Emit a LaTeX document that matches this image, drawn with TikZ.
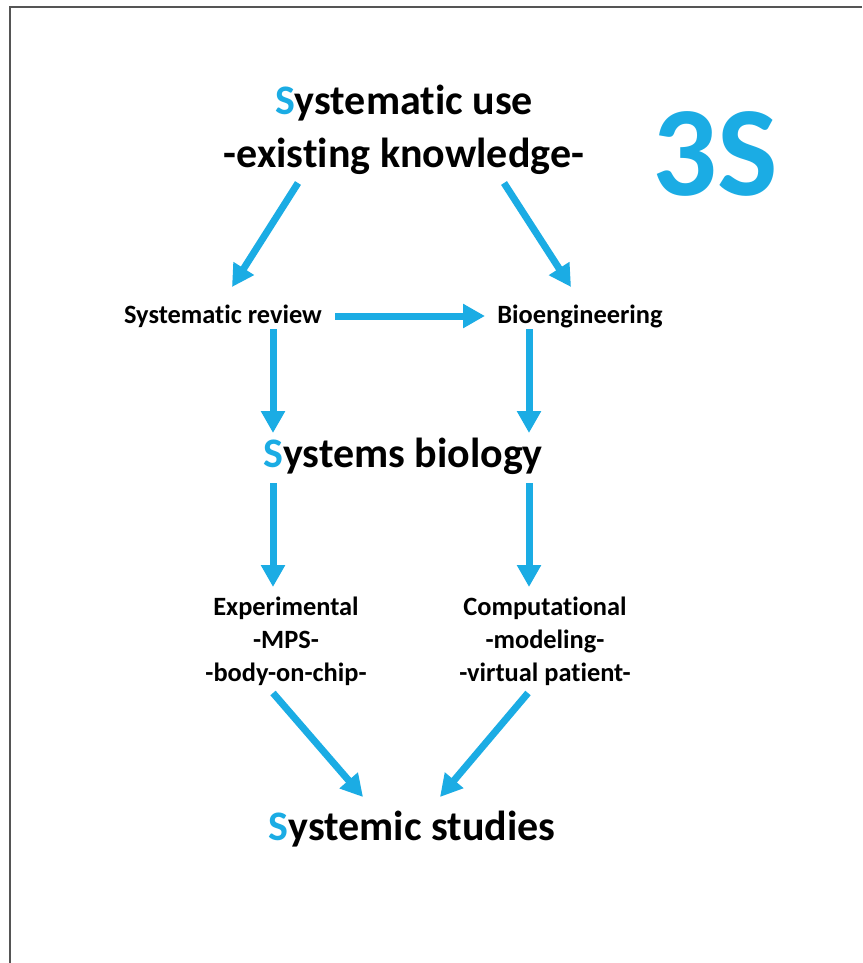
\documentclass[tikz,border=0pt]{standalone}
\usepackage{fontspec}
\setmainfont{Carlito}[Ligatures=NoCommon]
\usetikzlibrary{arrows.meta}
\definecolor{sblue}{RGB}{27,172,228}
\definecolor{framegray}{RGB}{85,85,85}
\begin{document}
\begin{tikzpicture}[x=1pt,y=-1pt,
 big/.style={font=\fontsize{42}{52}\selectfont\bfseries, anchor=base, align=center, inner sep=0pt},
 small/.style={font=\fontsize{26.4}{33}\selectfont\bfseries, anchor=base, align=center, inner sep=0pt},
 logo/.style={font=\fontsize{128}{130}\selectfont\bfseries, text=sblue, anchor=base, inner sep=0pt},
 flow/.style={draw=sblue, line width=7pt, -{Triangle[width=23pt,length=22pt]}}]
\useasboundingbox (0,0) rectangle (862,963);
\fill[white] (0,0) rectangle (862,963);
\draw[framegray, line width=2pt] (10,963) -- (10,7) -- (862,7);

\node[big] (top) at (404,167) {{\color{sblue}S}ystematic use\\-existing knowledge-};
\node[logo] (threeS) at (715,195) {3S};
\node[small] (review) at (223,323) {Systematic review};
\node[small] (bio) at (580,323) {Bioengineering};
\node[big] (sysbio) at (403,467) {{\color{sblue}S}ystems biology};
\node[small] (exp) at (286,681) {Experimental\\-MPS-\\-body-on-chip-};
\node[small] (comp) at (545,681) {Computational\\-modeling-\\-virtual patient-};
\node[big] (studies) at (412,840) {{\color{sblue}S}ystemic studies};

\coordinate (a1s) at (298,183); \coordinate (a1e) at (232,287);
\coordinate (a2s) at (504,183); \coordinate (a2e) at (571,287);
\coordinate (hs) at (335,316);  \coordinate (he) at (485,316);
\coordinate (v1s) at (273,329); \coordinate (v1e) at (273,433);
\coordinate (v2s) at (529,329); \coordinate (v2e) at (529,433);
\coordinate (v3s) at (273,483); \coordinate (v3e) at (273,587);
\coordinate (v4s) at (529,483); \coordinate (v4e) at (529,587);
\coordinate (d1s) at (273,693); \coordinate (d1e) at (363,797);
\coordinate (d2s) at (528,693); \coordinate (d2e) at (440,797);

\draw[flow] (a1s) -- (a1e);
\draw[flow] (a2s) -- (a2e);
\draw[flow] (hs) -- (he);
\draw[flow] (v1s) -- (v1e);
\draw[flow] (v2s) -- (v2e);
\draw[flow] (v3s) -- (v3e);
\draw[flow] (v4s) -- (v4e);
\draw[flow] (d1s) -- (d1e);
\draw[flow] (d2s) -- (d2e);
\end{tikzpicture}
\end{document}
